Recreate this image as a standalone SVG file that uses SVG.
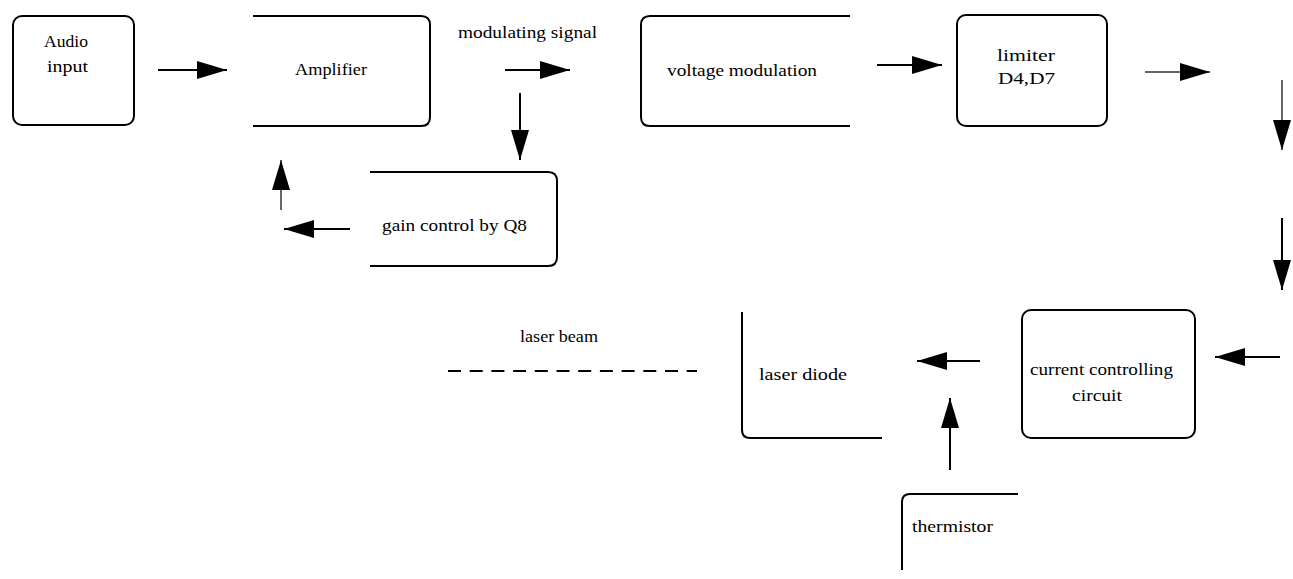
<svg xmlns="http://www.w3.org/2000/svg" width="1293" height="579" viewBox="0 0 1293 579">
<style>
.box{fill:none;stroke:#000;stroke-width:2}
.t{font-family:"Liberation Serif","Times New Roman",serif;font-size:17px;fill:#000}
.c{stroke:#000;stroke-width:2;fill:none}
.g{stroke:#666;stroke-width:2;fill:none}
</style>
<defs>
<marker id="ah" markerUnits="userSpaceOnUse" markerWidth="30" markerHeight="18" refX="30" refY="9" orient="auto">
<path d="M0,0 L30,9 L0,18 Z" fill="#000"/>
</marker>
</defs>
<rect width="1293" height="579" fill="#fff"/>
<g id="audio"><rect class="box" x="13" y="16" width="121" height="109" rx="9"/><text class="t" x="44" y="47" textLength="44" lengthAdjust="spacingAndGlyphs">Audio</text><text class="t" x="47" y="72" textLength="41" lengthAdjust="spacingAndGlyphs">input</text></g>
<g id="amplifier"><path class="box" d="M253,16 H421 Q430,16 430,25 V117 Q430,126 421,126 H253"/><text class="t" x="295" y="75" textLength="72" lengthAdjust="spacingAndGlyphs">Amplifier</text></g>
<g id="modlabel"><text class="t" x="458" y="38" textLength="139" lengthAdjust="spacingAndGlyphs">modulating signal</text></g>
<g id="voltage"><path class="box" d="M850,16 H650 Q641,16 641,25 V117 Q641,126 650,126 H850"/><text class="t" x="667" y="76" textLength="150" lengthAdjust="spacingAndGlyphs">voltage modulation</text></g>
<g id="limiter"><rect class="box" x="957" y="15" width="150" height="111" rx="9"/><text class="t" x="997" y="61" textLength="58" lengthAdjust="spacingAndGlyphs">limiter</text><text class="t" x="998" y="84" textLength="57" lengthAdjust="spacingAndGlyphs">D4,D7</text></g>
<g id="gain"><path class="box" d="M370,172 H548 Q557,172 557,181 V257 Q557,266 548,266 H370"/><text class="t" x="382" y="231" textLength="145" lengthAdjust="spacingAndGlyphs">gain control by Q8</text></g>
<g id="current"><rect class="box" x="1022" y="310" width="173" height="128" rx="9"/><text class="t" x="1030" y="375" textLength="143" lengthAdjust="spacingAndGlyphs">current controlling</text><text class="t" x="1072" y="401" textLength="50" lengthAdjust="spacingAndGlyphs">circuit</text></g>
<g id="laserdiode"><path class="box" d="M742,312 V430 Q742,438 750,438 H882"/><text class="t" x="759" y="380" textLength="88" lengthAdjust="spacingAndGlyphs">laser diode</text></g>
<g id="beamlabel"><text class="t" x="520" y="342" textLength="78" lengthAdjust="spacingAndGlyphs">laser beam</text></g>
<g id="thermistor"><path class="box" d="M902,570 V502 Q902,494 910,494 H1018"/><text class="t" x="912" y="532" textLength="81" lengthAdjust="spacingAndGlyphs">thermistor</text></g>
<g id="connectors">
<line class="c" x1="158" y1="70" x2="227" y2="70" marker-end="url(#ah)"/>
<line class="c" x1="505" y1="70" x2="570" y2="70" marker-end="url(#ah)"/>
<line class="c" x1="520" y1="93" x2="520" y2="160" marker-end="url(#ah)"/>
<line class="c" x1="877" y1="65" x2="942" y2="65" marker-end="url(#ah)"/>
<line class="g" x1="1145" y1="72" x2="1210" y2="72" marker-end="url(#ah)"/>
<line class="g" x1="1282" y1="80" x2="1282" y2="150" marker-end="url(#ah)"/>
<line class="c" x1="1282" y1="218" x2="1282" y2="290" marker-end="url(#ah)"/>
<line class="c" x1="1280" y1="357" x2="1215" y2="357" marker-end="url(#ah)"/>
<line class="c" x1="980" y1="361" x2="917" y2="361" marker-end="url(#ah)"/>
<line class="c" x1="950" y1="470" x2="950" y2="398" marker-end="url(#ah)"/>
<line class="c" x1="350" y1="229" x2="284" y2="229" marker-end="url(#ah)"/>
<line class="g" x1="281" y1="210" x2="281" y2="160" marker-end="url(#ah)"/>
<line class="c" x1="448" y1="371" x2="697" y2="371" stroke-dasharray="13 8.7"/>
</g>
</svg>
